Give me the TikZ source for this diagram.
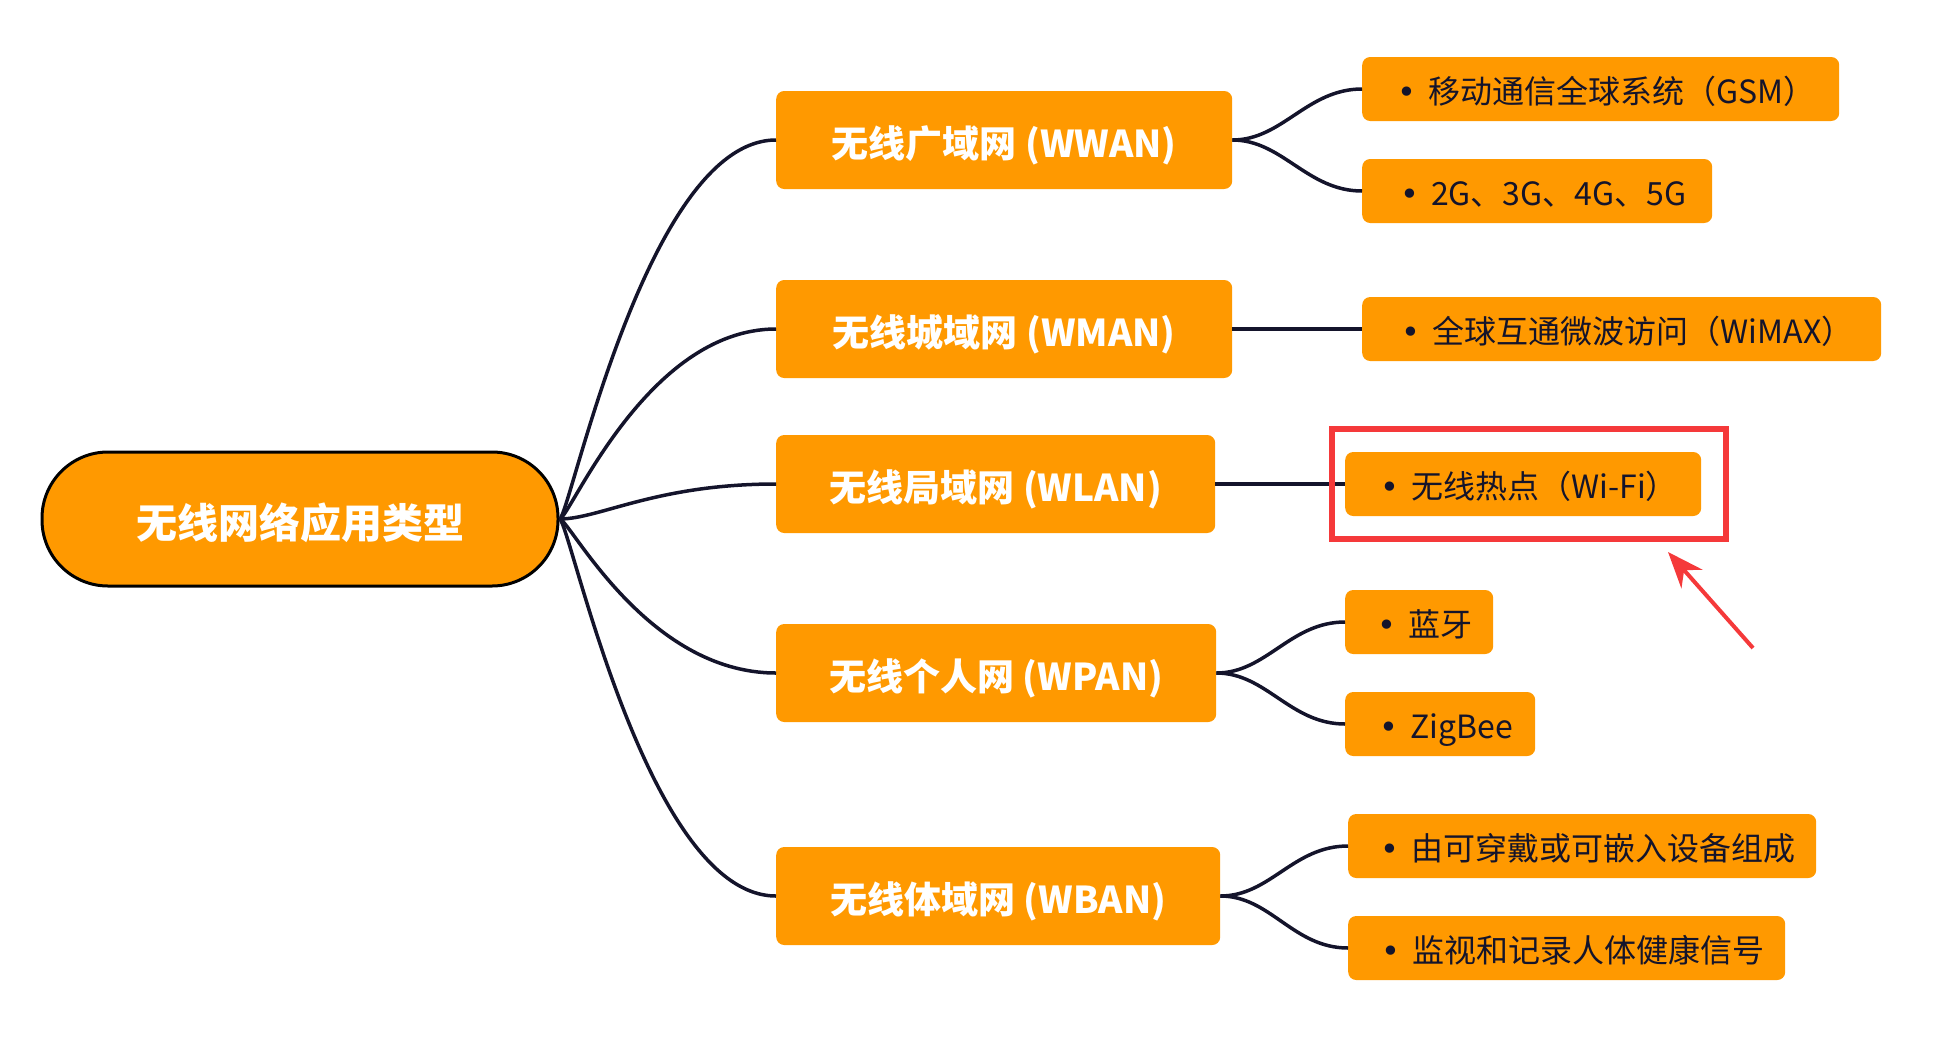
\documentclass[tikz,border=0pt]{standalone}
\usepackage{fontspec}
\setmainfont{Noto Sans CJK SC}
\newfontfamily\dotfont{DejaVu Sans}
\usepackage{tikz}
\usetikzlibrary{arrows.meta}
\definecolor{mindorange}{HTML}{FF9900}
\definecolor{inkline}{HTML}{14142B}
\definecolor{markred}{HTML}{F5393A}
\newcommand{\leafdot}{\hspace{12pt}{\dotfont •}\hspace{12pt}}

\begin{document}
\begin{tikzpicture}[x=1pt,y=-1pt,
                    rootnode/.style={draw=black,line width=3pt,fill=mindorange,rounded corners=66pt,minimum width=516pt,minimum height=134pt,text=white,text height=44pt,text depth=5pt,font=\fontsize{41pt}{45pt}\selectfont\bfseries},
                    mainbox/.style={fill=mindorange,rounded corners=8pt,minimum height=98pt,anchor=west,text=white,text height=40pt,text depth=6pt,font=\fontsize{37pt}{41pt}\selectfont\bfseries},
                    leafbox/.style={fill=mindorange,rounded corners=8pt,minimum height=64pt,anchor=west,text=inkline,text height=34pt,text depth=6pt,font=\fontsize{32pt}{36pt}\selectfont},
                    branch/.style={draw=inkline,line width=3.5pt},
                    redframe/.style={draw=markred,line width=6.5pt,minimum width=394pt,minimum height=110pt}]
                                     \useasboundingbox (0,0) rectangle (1948,1055);
                                     \node[rootnode](root)at(300,519){无线网络应用类型};
                                     \node[mainbox,minimum width=456pt](wwan)at(776,140){无线广域网 (WWAN)};
                                     \node[mainbox,minimum width=456pt](wman)at(776,329){无线城域网 (WMAN)};
                                     \node[mainbox,minimum width=439pt](wlan)at(776,484){无线局域网 (WLAN)};
                                     \node[mainbox,minimum width=440pt](wpan)at(776,673){无线个人网 (WPAN)};
                                     \node[mainbox,minimum width=444pt](wban)at(776,896){无线体域网 (WBAN)};
                                     \node[leafbox,minimum width=477pt](gsm)at(1362,89){\leafdot 移动通信全球系统（GSM）};
                                     \node[leafbox,minimum width=350pt](gen)at(1362,191){\leafdot 2G、3G、4G、5G};
                                     \node[leafbox,minimum width=519pt](wimax)at(1362,329){\leafdot 全球互通微波访问（WiMAX）};
                                     \node[leafbox,minimum width=356pt](wifi)at(1345,484){\leafdot 无线热点（Wi-Fi）};
                                     \node[leafbox,minimum width=148pt](blue)at(1345,622){\leafdot 蓝牙};
                                     \node[leafbox,minimum width=190pt](zig)at(1345,724){\leafdot ZigBee};
                                     \node[leafbox,minimum width=468pt](wear)at(1348,846){\leafdot 由可穿戴或可嵌入设备组成};
                                     \node[leafbox,minimum width=437pt](health)at(1348,948){\leafdot 监视和记录人体健康信号};
                                     \draw[branch] (root.east) .. controls +(10,0) and +(-130,0) .. (wwan.west);
                                     \draw[branch] (root.east) .. controls +(10,0) and +(-130,0) .. (wman.west);
                                     \draw[branch] (root.east) .. controls +(40,0) and +(-120,0) .. (wlan.west);
                                     \draw[branch] (root.east) .. controls +(10,0) and +(-130,0) .. (wpan.west);
                                     \draw[branch] (root.east) .. controls +(10,0) and +(-130,0) .. (wban.west);
                                     \draw[branch] (wwan.east) .. controls +(50,0) and +(-55,0) .. (gsm.west);
                                     \draw[branch] (wwan.east) .. controls +(50,0) and +(-55,0) .. (gen.west);
                                     \draw[branch] (wman.east) -- (wimax.west);
                                     \draw[branch] (wlan.east) -- (wifi.west);
                                     \draw[branch] (wpan.east) .. controls +(50,0) and +(-55,0) .. (blue.west);
                                     \draw[branch] (wpan.east) .. controls +(50,0) and +(-55,0) .. (zig.west);
                                     \draw[branch] (wban.east) .. controls +(50,0) and +(-55,0) .. (wear.west);
                                     \draw[branch] (wban.east) .. controls +(50,0) and +(-55,0) .. (health.west);
                                     \node[redframe](mark)at(1529,484){};
                                     \coordinate (arrowtail) at (1753,648);
                                     \coordinate (arrowtip) at (1668,552);
                                     \draw[markred,line width=4pt,-{Stealth[length=36pt,width=28pt]}] (arrowtail)--(arrowtip);
                                 \end{tikzpicture}
\end{document}
